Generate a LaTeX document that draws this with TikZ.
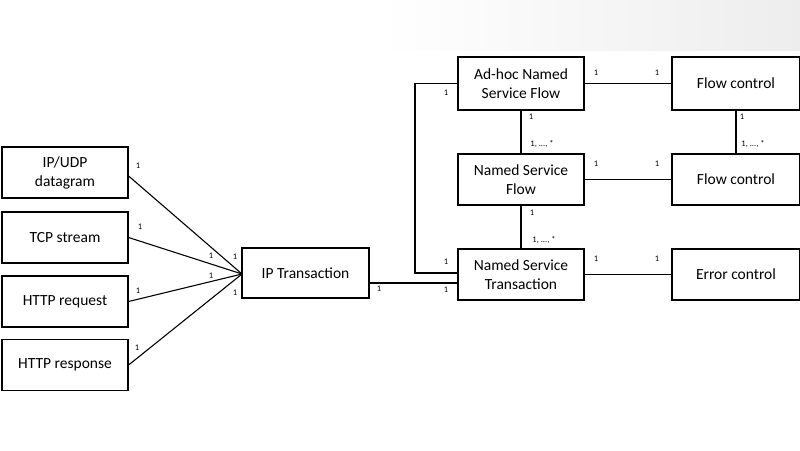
\documentclass[tikz,border=0pt]{standalone}
\usepackage{fontspec}
\setmainfont{Carlito}
\begin{document}
\begin{tikzpicture}[x=1pt,y=-1pt,
  box/.style={draw,line width=1.2pt,minimum width=126pt,minimum height=51pt,align=center,font=\fontsize{15.5}{19}\selectfont,inner sep=1pt},
  ln/.style={line width=1.1pt},
  lb/.style={font=\fontsize{8.5}{10}\selectfont,inner sep=0pt}]
\useasboundingbox (0,0) rectangle (800,450);
\shade[left color=white,right color=gray!14] (380,0) rectangle (800,50);
\node[box] (udp) at (65,172.5) {IP/UDP\\datagram};
\node[box] (tcp) at (65,237.5) {TCP stream};
\node[box] (req) at (65,301.5) {HTTP request};
\node[box] (resp) at (65,365) {HTTP response};
\node[box,minimum width=127pt,minimum height=50pt] (ipt) at (305.5,273) {IP Transaction};
\node[box,minimum height=53pt] (adhoc) at (521,83.5) {Ad-hoc Named\\Service Flow};
\node[box] (nsf) at (521,179.5) {Named Service\\Flow};
\node[box] (nst) at (521,274.5) {Named Service\\Transaction};
\node[box,minimum width=128pt,minimum height=53pt] (fc1) at (736,83.5) {Flow control};
\node[box,minimum width=128pt] (fc2) at (736,179.5) {Flow control};
\node[box,minimum width=128pt] (ec) at (736,274.5) {Error control};
\coordinate (m) at (242,274);
\draw[ln] (udp.east|-0,176) -- (m);
\draw[ln] (tcp.east) -- (m);
\draw[ln] (req.east) -- (m);
\draw[ln] (resp.east) -- (m);
\draw[ln] (ipt.east|-0,283) -- (nst.west|-0,283);
\draw[ln] (adhoc.west) -- (415,83.5) -- (415,273) -- (nst.west|-0,273);
\draw[ln] (adhoc.south) -- (nsf.north);
\draw[ln] (nsf.south) -- (nst.north);
\draw[ln] (fc1.south) -- (fc2.north);
\draw[ln] (adhoc.east) -- (fc1.west);
\draw[ln] (nsf.east) -- (fc2.west);
\draw[ln] (nst.east) -- (ec.west);
% labels
\node[lb] at (138,166) {1};
\node[lb] at (140,227) {1};
\node[lb] at (138,291) {1};
\node[lb] at (137,348) {1};
\node[lb] at (211,256) {1};
\node[lb] at (235,257) {1};
\node[lb] at (211,276) {1};
\node[lb] at (235,293) {1};
\node[lb] at (379,289) {1};
\node[lb] at (446,93) {1};
\node[lb] at (446,262) {1};
\node[lb] at (446,290) {1};
\node[lb] at (596,73) {1};
\node[lb] at (657,73) {1};
\node[lb] at (596,164) {1};
\node[lb] at (657,164) {1};
\node[lb] at (596,259) {1};
\node[lb] at (657,259) {1};
\node[lb] at (531,117) {1};
\node[lb] at (542,144) {1, ..., *};
\node[lb] at (532,213) {1};
\node[lb] at (544,240) {1, ..., *};
\node[lb] at (742,117) {1};
\node[lb] at (753,144) {1, ..., *};
\end{tikzpicture}
\end{document}
